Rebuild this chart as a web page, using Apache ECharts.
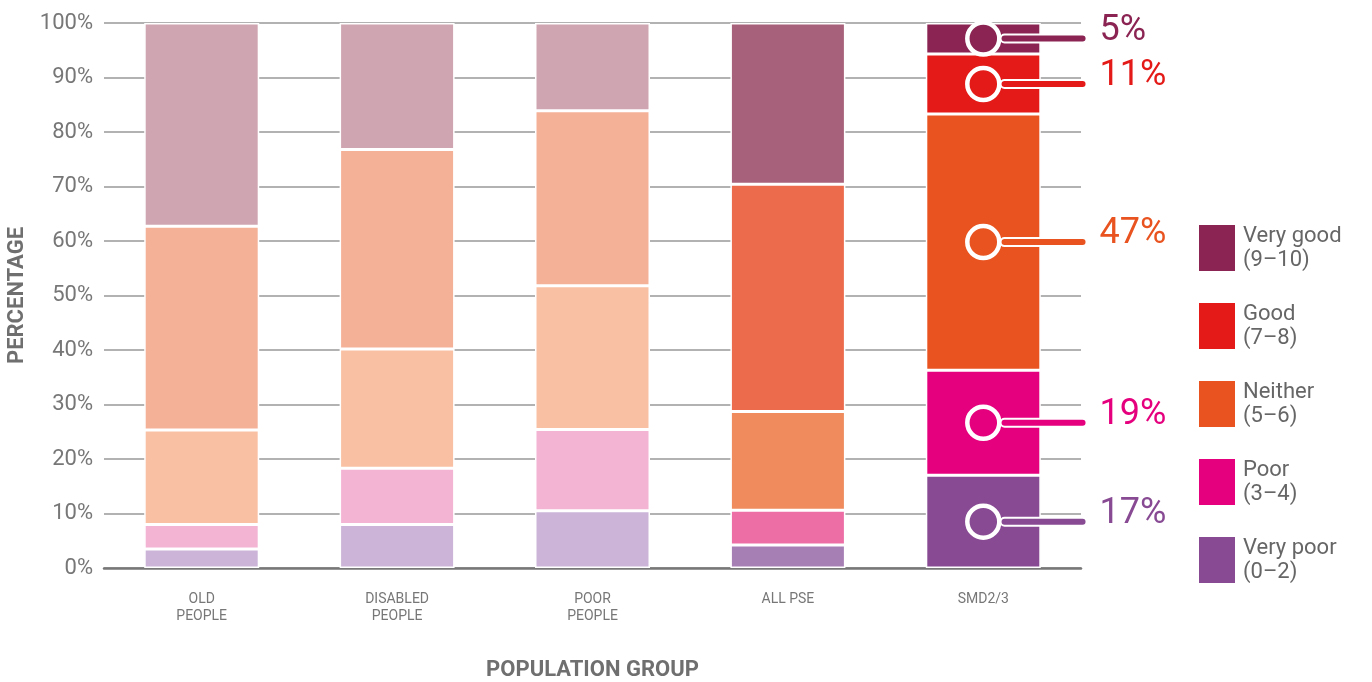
<!DOCTYPE html>
<html>
<head>
<meta charset="utf-8">
<script src="https://cdn.jsdelivr.net/npm/echarts@6/dist/echarts.min.js"></script>
<style>
  html, body { margin: 0; padding: 0; background: #fff; }
  #chart { width: 1372px; height: 682px; }
</style>
</head>
<body>
<div id="chart"></div>
<script>
// population groups along the x axis
var groups = ['OLD\nPEOPLE', 'DISABLED\nPEOPLE', 'POOR\nPEOPLE', 'ALL PSE', 'SMD2/3'];

// share of each rating per group (%), bottom to top
var veryPoor = [3.5, 8.0, 10.5, 4.2, 17.0];
var poor     = [4.5, 10.3, 14.9, 6.4, 19.3];
var neither  = [17.3, 21.9, 26.4, 18.1, 47.0];
var good     = [37.4, 36.6, 32.1, 41.7, 11.0];
var veryGood = [37.3, 23.2, 16.1, 29.6, 5.7];

// call-out figures printed next to the SMD2/3 bar
var calloutLabels = [17, 19, 47, 11, 5];

var ratingNames = ['Very poor\n(0–2)', 'Poor\n(3–4)', 'Neither\n(5–6)', 'Good\n(7–8)', 'Very good\n(9–10)'];

// colours: faded for the first three bars, mid for ALL PSE, strong for SMD2/3
var fadedColors = ['#cbb4d8', '#f3b3d3', '#f9c0a3', '#f5b197', '#cfa5b1'];
var midColors   = ['#a67fb5', '#ec6ea5', '#ef8b5d', '#ed6b4d', '#a8617a'];
var strongColors = ['#874a93', '#e5007e', '#e8531f', '#e31a17', '#8b2452'];

var FONT = 'Roboto';
var allSeries = [veryPoor, poor, neither, good, veryGood];

function colorFor(seriesIdx, groupIdx) {
    if (groupIdx < 3) return fadedColors[seriesIdx];
    if (groupIdx === 3) return midColors[seriesIdx];
    return strongColors[seriesIdx];
}

var series = allSeries.map(function (vals, s) {
    return {
        name: ratingNames[s],
        type: 'bar',
        stack: 'total',
        barWidth: 115,
        color: strongColors[s],
        itemStyle: { borderColor: '#fff', borderWidth: 1.5 },
        data: vals.map(function (v, g) {
            return { value: v, itemStyle: { color: colorFor(s, g) } };
        })
    };
});

// circles + leader lines on the SMD2/3 bar, placed at each segment's midpoint
var smdIdx = 4;
var base = 0;
var calloutData = allSeries.map(function (vals, s) {
    var mid = base + vals[smdIdx] / 2;
    base += vals[smdIdx];
    var c = strongColors[s];
    return {
        value: [groups[smdIdx], mid],
        itemStyle: { color: c },
        label: {
            formatter: '{ln|}{val|' + calloutLabels[s] + '%}',
            rich: {
                ln: { width: 84, height: 6, backgroundColor: c, borderColor: '#fff', borderWidth: 2, borderRadius: 3 },
                val: { color: c, fontSize: 36, fontFamily: FONT, padding: [0, 0, 16, 14] }
            }
        }
    };
});

series.push({
    type: 'scatter',
    silent: true,
    z: 5,
    symbol: 'circle',
    symbolSize: 32,
    itemStyle: { borderColor: '#fff', borderWidth: 4.5, opacity: 1 },
    label: { show: true, position: 'right', distance: 0 },
    data: calloutData
});

var chart = echarts.init(document.getElementById('chart'));
chart.setOption({
    animation: false,
    textStyle: { fontFamily: FONT },
    grid: { left: 104, right: 291, top: 23, bottom: 114, outerBoundsMode: 'none', containLabel: false },
    legend: {
        orient: 'vertical',
        left: 1192,
        top: 218,
        itemWidth: 38,
        itemHeight: 48,
        itemGap: 28,
        icon: 'rect',
        data: ratingNames.slice().reverse(),
        textStyle: { fontSize: 22, lineHeight: 24, color: '#666', fontFamily: FONT, padding: [0, 0, 0, 2] }
    },
    xAxis: {
        type: 'category',
        data: groups,
        name: 'POPULATION GROUP',
        nameLocation: 'middle',
        nameGap: 91,
        nameTextStyle: { fontSize: 22, fontWeight: 'bold', color: '#6f6f6f' },
        axisTick: { show: false },
        axisLine: { lineStyle: { color: '#777', width: 2.5 } },
        axisLabel: { fontSize: 14, lineHeight: 17, color: '#777', margin: 23 }
    },
    yAxis: {
        type: 'value',
        min: 0,
        max: 100,
        interval: 10,
        name: 'PERCENTAGE',
        nameLocation: 'middle',
        nameGap: 72,
        nameTextStyle: { fontSize: 22, fontWeight: 'bold', color: '#6f6f6f' },
        axisLabel: { formatter: '{value}%', fontSize: 22, color: '#777', margin: 11 },
        splitLine: { lineStyle: { color: '#999', width: 1.5 } }
    },
    series: series
});
</script>
</body>
</html>
